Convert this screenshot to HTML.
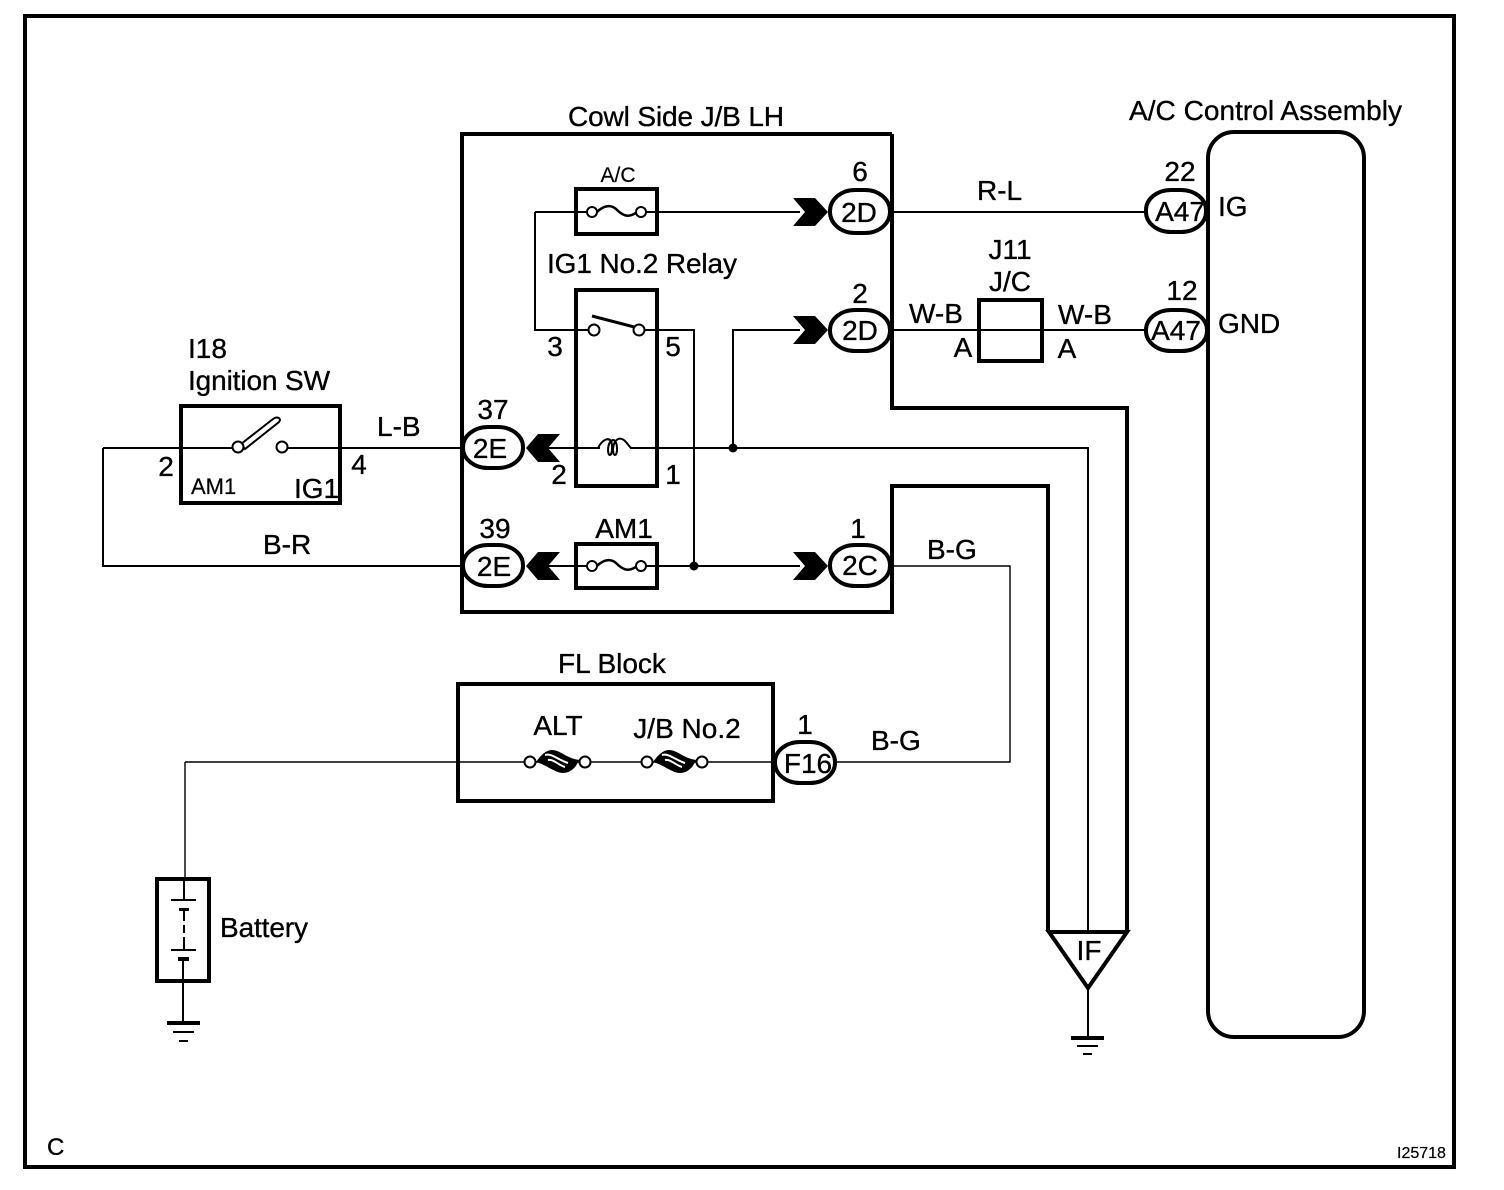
<!DOCTYPE html>
<html><head><meta charset="utf-8"><style>
html,body{margin:0;padding:0;background:#fff}
svg{display:block}
text{font-family:"Liberation Sans",sans-serif;fill:#000;font-size:28px;stroke:#000;stroke-width:.35}
.m{text-anchor:middle}
.w{fill:none;stroke:#000;stroke-width:2}
.n{fill:none;stroke:#000;stroke-width:1.4}
.b{fill:none;stroke:#000;stroke-width:4}
.c{fill:#fff;stroke:#000;stroke-width:4}
.o{fill:#fff;stroke:#000;stroke-width:2}
</style></head><body>
<svg xmlns="http://www.w3.org/2000/svg" width="1504" height="1190" viewBox="0 0 1504 1190">
<rect width="1504" height="1190" fill="#fff"/>
<rect class="b" x="25" y="16" width="1429" height="1151"/>

<!-- wires -->
<path class="w" d="M892 212H1146M892 330H1146M103 448H232M288 448H461M103 448V566H461"/>
<path class="w" d="M535 448H600M630 448H1088V932M535 212H588M535 212V330H589M646 212H800M534 566H588M646 566H800M645 330H694V566M733 448V330H800"/>
<path class="n" d="M892 566H1010V762H836M185 762H775M185 762V880"/>
<path class="w" d="M1088 988V1040"/>
<circle cx="733" cy="448" r="4.5"/><circle cx="694" cy="566" r="4.5"/>

<!-- J/B box -->
<path class="b" d="M892 134H462V612H892V486H1048V932M892 134V408H1127V932"/>
<path d="M1049 932H1127L1088 988Z" fill="none" stroke="#000" stroke-width="4"/>
<text x="1089" y="960" class="m">IF</text>

<!-- A/C fuse -->
<rect class="b" x="576" y="189" width="81" height="45"/>
<path class="w" style="stroke-width:2.5" d="M597 212C603 206 610 204 616 209C622 215 628 219 637 212"/>
<circle class="o" cx="592" cy="212" r="5"/><circle class="o" cx="641" cy="212" r="5"/>
<text x="618" y="182" class="m" style="font-size:21px;stroke-width:.2">A/C</text>

<!-- Relay -->
<rect class="b" x="576" y="290" width="81" height="196"/>
<path d="M592 316L638 328" stroke="#000" stroke-width="3" fill="none"/>
<circle class="o" cx="594" cy="330" r="5.5"/><circle class="o" cx="639" cy="330" r="5.5"/>
<path class="w" d="M598 448C602 440 608 437 611 441C613 446 612 455 610 455C607 455 607 442 613 440C618 440 618 455 615 455C612 455 612 442 618 439C624 437 627 444 631 448"/>
<text x="547" y="273" textLength="190">IG1 No.2 Relay</text>
<text x="555" y="356" class="m">3</text><text x="673" y="356" class="m">5</text>
<text x="559" y="484" class="m">2</text><text x="673" y="484" class="m">1</text>

<!-- AM1 fuse -->
<rect class="b" x="576" y="544" width="81" height="44"/>
<path class="w" style="stroke-width:2.5" d="M597 566C603 560 610 558 616 563C622 569 628 573 637 566"/>
<circle class="o" cx="592" cy="566" r="5"/><circle class="o" cx="641" cy="566" r="5"/>
<text x="624" y="538" class="m">AM1</text>

<!-- chevrons -->
<path d="M793 198H815L828 212L815 226H793L805 212Z"/>
<path d="M793 316H815L828 330L815 344H793L805 330Z"/>
<path d="M793 552H815L828 566L815 580H793L805 566Z"/>
<path d="M560 434H538L526 448L538 462H560L548 448Z"/>
<path d="M560 552H538L526 566L538 580H560L548 566Z"/>

<!-- connector pills -->
<rect class="c" x="830" y="190" width="60" height="43" rx="25" ry="21"/><text x="859" y="222" class="m">2D</text>
<rect class="c" x="830" y="310" width="60" height="41" rx="25" ry="20"/><text x="860" y="340" class="m">2D</text>
<rect class="c" x="830" y="545" width="60" height="41" rx="25" ry="20"/><text x="860" y="575" class="m">2C</text>
<rect class="c" x="463" y="427" width="60" height="41" rx="25" ry="20"/><text x="490" y="458" class="m">2E</text>
<rect class="c" x="463" y="545" width="60" height="41" rx="25" ry="20"/><text x="494" y="576" class="m">2E</text>

<!-- A/C assembly -->
<rect class="b" x="1208" y="132" width="156" height="905" rx="26"/>
<rect class="c" x="1146" y="190" width="60" height="42" rx="25" ry="20"/><text x="1180" y="221" class="m">A47</text>
<rect class="c" x="1146" y="310" width="61" height="41" rx="25" ry="20"/><text x="1176" y="340" class="m">A47</text>
<rect class="c" x="775" y="742" width="60" height="41" rx="25" ry="20"/><text x="808" y="773" class="m">F16</text>

<text x="860" y="181" class="m">6</text><text x="860" y="303" class="m">2</text><text x="858" y="538" class="m">1</text>
<text x="493" y="419" class="m">37</text><text x="495" y="538" class="m">39</text>
<text x="1180" y="181" class="m">22</text><text x="1182" y="300" class="m">12</text><text x="805" y="734" class="m">1</text>

<text x="568" y="126" textLength="216">Cowl Side J/B LH</text>
<text x="1129" y="120" textLength="273">A/C Control Assembly</text>
<text x="977" y="200">R-L</text>
<text x="1010" y="259" class="m">J11</text><text x="1010" y="291" class="m">J/C</text>
<rect class="b" x="979" y="300" width="63" height="61"/>
<text x="909" y="323">W-B</text><text x="1058" y="324">W-B</text>
<text x="963" y="357" class="m">A</text><text x="1067" y="358" class="m">A</text>

<text x="1218" y="216">IG</text><text x="1218" y="333">GND</text>

<!-- Ignition SW -->
<rect class="b" x="181" y="406" width="159" height="97"/>
<path d="M241 444L273 419C277 416 282 418 279 422L245 449Z" fill="#fff" stroke="#000" stroke-width="2"/>
<circle class="o" cx="238" cy="447" r="5.5"/><circle class="o" cx="282" cy="447" r="5.5"/>
<text x="188" y="358">I18</text><text x="188" y="390" textLength="142">Ignition SW</text>
<text x="166" y="476" class="m">2</text><text x="359" y="474" class="m">4</text>
<text x="191" y="494" style="font-size:22px;stroke-width:.2">AM1</text><text x="294" y="498">IG1</text>
<text x="377" y="436">L-B</text><text x="263" y="554">B-R</text>
<text x="927" y="559">B-G</text><text x="871" y="750">B-G</text>

<!-- FL Block -->
<rect class="b" x="458" y="684" width="315" height="117"/>
<text x="612" y="673" class="m">FL Block</text>
<text x="558" y="735" class="m">ALT</text><text x="687" y="738" class="m">J/B No.2</text>
<g>
<path d="M536 762C541 755 546 750 552 750C560 750 566 758 579 760C576 768 570 773 563 773C555 773 547 765 536 762Z" fill="#000"/>
<path d="M545 755C552 753 558 760 568 763M548 760C554 759 558 765 565 767" fill="none" stroke="#fff" stroke-width="2"/>
<circle class="o" cx="530" cy="762" r="5.5"/><circle class="o" cx="585" cy="762" r="5.5"/>
</g>
<g transform="translate(117,0)">
<path d="M536 762C541 755 546 750 552 750C560 750 566 758 579 760C576 768 570 773 563 773C555 773 547 765 536 762Z" fill="#000"/>
<path d="M545 755C552 753 558 760 568 763M548 760C554 759 558 765 565 767" fill="none" stroke="#fff" stroke-width="2"/>
<circle class="o" cx="530" cy="762" r="5.5"/><circle class="o" cx="585" cy="762" r="5.5"/>
</g>

<!-- Battery -->
<rect class="b" x="157" y="879" width="52" height="102"/>
<path class="w" d="M184 880V900M171 900H196M184 909V921M184 925V933M184 937V949M171 950H196M183 959V1022"/>
<path d="M179 908H189V911H179ZM178 957H189V961H178Z"/>
<text x="220" y="937" textLength="88">Battery</text>
<path d="M167 1021H200V1025H167Z"/><path d="M173 1031H194V1033H173ZM179 1040H188V1042H179Z"/>

<!-- Ground 2 -->
<path d="M1071 1036H1104V1040H1071Z"/><path d="M1077 1045H1098V1047H1077ZM1083 1053H1092V1055H1083Z"/>

<text x="47" y="1155" style="font-size:24px">C</text>
<text x="1397" y="1158" style="font-size:16px;stroke-width:.2">I25718</text>
</svg>
</body></html>
